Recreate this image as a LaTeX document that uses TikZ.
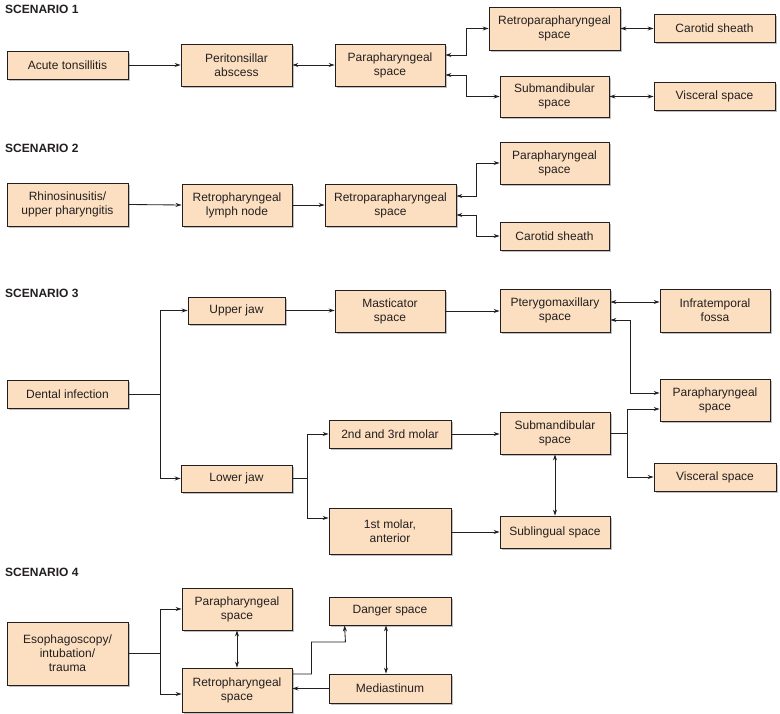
\documentclass[tikz,border=0pt]{standalone}
\usepackage{fontspec}
\setmainfont{Liberation Sans}
\usetikzlibrary{arrows.meta,shadows}
\definecolor{peach}{HTML}{FCDFC0}
\definecolor{ink}{HTML}{231F20}
\begin{document}
\begin{tikzpicture}[x=1pt,y=-1pt,
  box/.style={draw=ink, line width=0.9pt, fill=peach, align=center, inner sep=0pt,
    text=ink, font=\fontsize{12}{14}\selectfont,
    drop shadow={shadow xshift=1.6pt, shadow yshift=-1.6pt, fill=black!45, opacity=0.55}},
  wh/.style 2 args={minimum width=#1pt, minimum height=#2pt},
  lnk/.style={draw=ink, line width=0.85pt},
  arr/.style={lnk, -{Stealth[length=6pt,width=4pt]}},
  dar/.style={lnk, {Stealth[length=6pt,width=4pt]}-{Stealth[length=6pt,width=4pt]}},
  ttl/.style={anchor=west, font=\bfseries\fontsize{12}{14}\selectfont, text=ink, inner sep=0pt}]
\useasboundingbox (0,0) rectangle (780,714);

% ---------- Scenario 1 ----------
\node[ttl] (t1) at (5,9) {SCENARIO 1};
\node[box, wh={121}{28}] (a1) at (67.5,65) {Acute tonsillitis};
\node[box, wh={111}{42}] (p1) at (236.5,65) {Peritonsillar\\abscess};
\node[box, wh={110}{42}] (q1) at (390,65) {Parapharyngeal\\space};
\node[box, wh={131}{43}] (r1) at (554.5,28.5) {Retroparapharyngeal\\space};
\node[box, wh={121}{28}] (c1) at (714.5,28.5) {Carotid sheath};
\node[box, wh={109}{41}] (s1) at (554.5,96.5) {Submandibular\\space};
\node[box, wh={121}{28}] (v1) at (714.5,96.5) {Visceral space};

\draw[arr] (a1.east) -- (p1.west);
\draw[dar] (p1.east) -- (q1.west);
\draw[dar] ([yshift=10pt]q1.east) -- ++(21,0) |- (r1.west);
\draw[dar] ([yshift=-10pt]q1.east) -- ++(21,0) |- (s1.west);
\draw[dar] (r1.east) -- (c1.west);
\draw[dar] (s1.east) -- (v1.west);

% ---------- Scenario 2 ----------
\node[ttl] (t2) at (5,148) {SCENARIO 2};
\node[box, wh={121}{43}] (a2) at (67.5,204.5) {Rhinosinusitis/\\upper pharyngitis};
\node[box, wh={110}{42}] (b2) at (237,205) {Retropharyngeal\\lymph node};
\node[box, wh={131}{42}] (r2) at (390.5,205) {Retroparapharyngeal\\space};
\node[box, wh={109}{42}] (q2) at (554.5,163) {Parapharyngeal\\space};
\node[box, wh={109}{28}] (c2) at (554.5,236) {Carotid sheath};

\draw[arr] (a2.east) -- (b2.west);
\draw[arr] (b2.east) -- (r2.west);
\draw[dar] ([yshift=9pt]r2.east) -- ++(20,0) |- (q2.west);
\draw[dar] ([yshift=-10pt]r2.east) -- ++(20,0) |- (c2.west);

% ---------- Scenario 3 ----------
\node[ttl] (t3) at (5,293) {SCENARIO 3};
\node[box, wh={121}{28}] (d3) at (67.5,394) {Dental infection};
\node[box, wh={97}{27}] (u3) at (236.5,310.5) {Upper jaw};
\node[box, wh={111}{27}] (l3) at (236.5,478.5) {Lower jaw};
\node[box, wh={110}{42}] (m3) at (390,311) {Masticator\\space};
\node[box, wh={110}{43}] (p3) at (555,310.5) {Pterygomaxillary\\space};
\node[box, wh={110}{43}] (i3) at (715,310.5) {Infratemporal\\fossa};
\node[box, wh={110}{42}] (q3) at (715,400) {Parapharyngeal\\space};
\node[box, wh={122}{28}] (m23) at (390,434) {2nd and 3rd molar};
\node[box, wh={110}{42}] (s3) at (555,433) {Submandibular\\space};
\node[box, wh={122}{28}] (v3) at (715,477) {Visceral space};
\node[box, wh={122}{46}] (f3) at (390,531) {1st molar,\\anterior};
\node[box, wh={110}{32}] (g3) at (555,532) {Sublingual space};

\draw[lnk] (d3.east) -- ++(32,0) coordinate (j3);
\draw[arr] (j3) |- (u3.west);
\draw[arr] (j3) |- (l3.west);
\draw[arr] (u3.east) -- (m3.west |- u3.east);
\draw[arr] (m3.east) -- (p3.west |- m3.east);
\draw[dar] ([yshift=8.5pt]p3.east) -- ([yshift=8.5pt]i3.west);
\draw[dar] ([yshift=-9.5pt]p3.east) -- ++(20,0) |- ([yshift=7pt]q3.west);
\draw[lnk] (l3.east) -- ++(15,0) coordinate (k3);
\draw[arr] (k3) |- (m23.west);
\draw[arr] (k3) |- ([yshift=13pt]f3.west);
\draw[arr] (m23.east) -- (s3.west |- m23.east);
\draw[arr] (f3.east |- g3.west) -- (g3.west);
\draw[dar] (s3.south) -- (g3.north);
\draw[lnk] (s3.east) -- ++(17,0) coordinate (h3);
\draw[arr] (h3) |- ([yshift=-9pt]q3.west);
\draw[arr] (h3) |- (v3.west);

% ---------- Scenario 4 ----------
\node[ttl] (t4) at (5,572) {SCENARIO 4};
\node[box, wh={121}{63}] (e4) at (67.5,653.5) {Esophagoscopy/\\intubation/\\trauma};
\node[box, wh={110}{42}] (p4) at (237,609) {Parapharyngeal\\space};
\node[box, wh={110}{44}] (r4) at (237,690) {Retropharyngeal\\space};
\node[box, wh={122}{28}] (d4) at (390,611) {Danger space};
\node[box, wh={122}{29}] (m4) at (390,688.5) {Mediastinum};

\draw[lnk] (e4.east) -- ++(32,0) coordinate (j4);
\draw[arr] (j4) |- (p4.west);
\draw[arr] (j4) |- ([yshift=-4pt]r4.west);
\draw[dar] (p4.south) -- (r4.north);
\draw[arr] ([yshift=16pt]r4.east) -- ++(19,0) -- ++(0,-32) -- ++(34,0) -- ([xshift=16pt]d4.south west);
\draw[dar] ([xshift=-4pt]d4.south) -- ([xshift=-4pt]m4.north);
\draw[arr] (m4.west) -- (r4.east |- m4.west);
\end{tikzpicture}
\end{document}
